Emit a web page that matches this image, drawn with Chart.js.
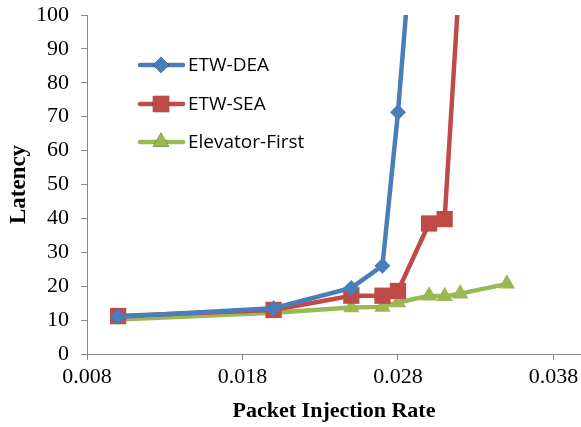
<!DOCTYPE html>
<html>
<head>
<meta charset="utf-8">
<script src="https://cdn.jsdelivr.net/npm/chart.js@4/dist/chart.umd.min.js"></script>
<style>
    html, body { margin:0; padding:0; background:#fff; }
    #wrap { width:581px; height:427px; }
</style>
</head>
<body>
<div id="wrap"><canvas id="grafico" width="581" height="427"></canvas></div>
<script>
// packet injection rate vs. latency
const rates     = [0.010, 0.020, 0.025, 0.027, 0.028, 0.029, 0.030, 0.031, 0.032, 0.035];
const etwDea    = [11, 13.5, 19.5, 26, 71.3, 128, null, null, null, null];
const etwSea    = [11.2, 13, 17.2, 17.2, 18.6, null, 38.5, 39.8, 114, null];
const elevFirst = [10.2, 12.2, 13.7, 13.9, 15.2, null, 17.2, 17, 17.8, 20.7];
const xTicks    = [0.008, 0.018, 0.028, 0.038];

const AXIS = '#868686';
const serif = 'Liberation Serif';

const pts = arr => rates.map((r, i) => ({ x: r, y: arr[i] })).filter(p => p.y !== null);

const series = [
    { label:'ETW-DEA',        data: pts(etwDea),    cor:'#4A7EBB', estilo:'rectRot',  raio:8 },
    { label:'ETW-SEA',        data: pts(etwSea),    cor:'#BE4B48', estilo:'rect',     raio:11.5 },
    { label:'Elevator-First', data: pts(elevFirst), cor:'#98B954', estilo:'triangle', raio:9.5 },
];

// legend drawn inside the plot area
const legendaInterna = {
    id: 'legendaInterna',
    afterDatasetsDraw(chart) {
        const ctx = chart.ctx;
        const linhas = [65, 104, 142];
        ctx.save();
        chart.data.datasets.forEach((ds, i) => {
            const y = linhas[i];
            ctx.strokeStyle = ds.borderColor;
            ctx.lineWidth = ds.borderWidth;
            ctx.lineCap = 'round';
            ctx.beginPath();
            ctx.moveTo(140, y);
            ctx.lineTo(183, y);
            ctx.stroke();
            Chart.helpers.drawPoint(ctx, {
                pointStyle: ds.pointStyle,
                radius: ds.pointRadius,
                borderWidth: 0,
                rotation: 0
            }, 161, y);
            ctx.fillStyle = ds.pointBackgroundColor;
            ctx.fill();
            ctx.fillStyle = '#000';
            ctx.font = '19px "Open Sans"';
            ctx.textBaseline = 'middle';
            ctx.fillText(ds.label, 188, y + 1);
        });
        ctx.restore();
    }
};

new Chart(document.getElementById('grafico'), {
    type: 'line',
    data: {
        datasets: series.map(s => ({
            label: s.label,
            data: s.data,
            borderColor: s.cor,
            backgroundColor: s.cor,
            pointBackgroundColor: s.cor,
            pointBorderColor: s.cor,
            pointBorderWidth: 0,
            pointStyle: s.estilo,
            pointRadius: s.raio,
            pointHoverRadius: s.raio,
            borderWidth: 4.5,
            tension: 0,
            spanGaps: true,
        }))
    },
    options: {
        responsive: false,
        animation: false,
        layout: { autoPadding: false, padding: { top: 15, right: 0, left: 0, bottom: 0 } },
        plugins: {
            legend: { display: false },
            tooltip: { enabled: false },
        },
        scales: {
            x: {
                type: 'linear',
                min: 0.008,
                max: 0.03977,
                afterBuildTicks: sc => { sc.ticks = xTicks.map(v => ({ value: v })); },
                afterFit: sc => { sc.height = 73; sc.paddingLeft = 0; sc.paddingRight = 0; },
                grid: { drawOnChartArea: false, drawTicks: true, tickLength: 6, color: AXIS },
                border: { color: AXIS, width: 1 },
                ticks: {
                    color: '#000',
                    padding: 4,
                    maxRotation: 0,
                    font: { family: serif, size: 22 },
                    callback: v => v.toFixed(3),
                },
                title: {
                    display: true,
                    text: 'Packet Injection Rate',
                    color: '#000',
                    font: { family: serif, size: 22, weight: 'bold' },
                    padding: { top: 0, bottom: 2 },
                },
            },
            y: {
                min: 0,
                max: 100,
                afterFit: sc => { sc.width = 87; sc.paddingTop = 0; sc.paddingBottom = 0; },
                grid: { drawOnChartArea: false, drawTicks: true, tickLength: 6, color: AXIS },
                border: { color: AXIS, width: 1 },
                ticks: {
                    stepSize: 10,
                    color: '#000',
                    padding: 12,
                    font: { family: serif, size: 22 },
                },
                title: {
                    display: true,
                    text: 'Latency',
                    color: '#000',
                    font: { family: serif, size: 23, weight: 'bold' },
                    padding: { top: 5, bottom: 0 },
                },
            },
        },
    },
    plugins: [legendaInterna],
});
</script>
</body>
</html>
